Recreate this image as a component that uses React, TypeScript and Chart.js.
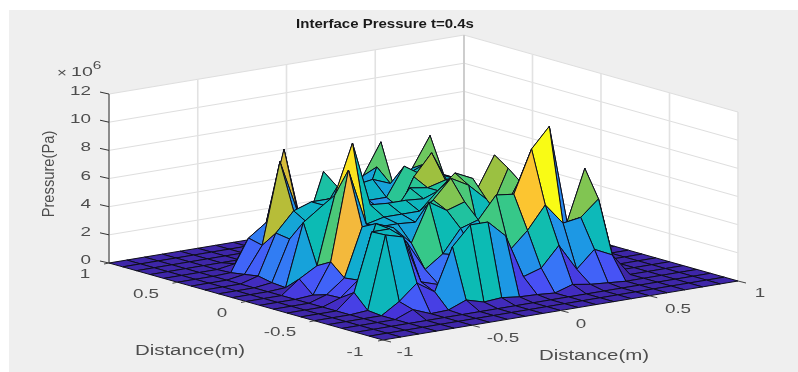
import React, { useEffect, useRef } from "react";
import { Chart, registerables } from "chart.js";

Chart.register(...registerables);

const zTicks = [0, 2, 4, 6, 8, 10, 12];
const xyTicks = [-1, -0.5, 0, 0.5, 1];
const gridXs = [-1, -0.9, -0.8, -0.7, -0.6, -0.5, -0.4, -0.3, -0.2, -0.1, 0, 0.1, 0.2, 0.3, 0.4, 0.5, 0.6, 0.7, 0.8, 0.9, 1];
const gridYs = gridXs;

// pressure (x 10^6 Pa); columns x = -0.7 .. 0.7
const zYm07 = [0, 0.5, 0, 0.05, 0.55, 0.2, 0.3, 0.15, 0.1, 0, 0.4, 0.2, 0.1, 0, 0];
const zYm06 = [0, 0.8, 1.9, 1.07, 4.06, 5.4, 5.4, 4.2, 1.1, 1.5, 2.9, 1.0, 2.2, 1.6, 0];
const zYm05 = [0.1, 5.25, 4.9, 1.5, 1.1, 3, 3, 3, 2.7, 3.9, 5.5, 4.0, 4.2, 5.3, 0];
const zYm04 = [1.1, 5.2, 5.2, 4.0, 1.9, 2.8, 4.4, 4.8, 6.35, 6.2, 9.2, 10.6, 3.6, 7.2, 0];
const zYm03 = [0.45, 1.5, 5.3, 4.8, 3.5, 6.2, 5.4, 5.8, 2.3, 4.3, 6.5, 5, 2, 1, 0];
const zYm02 = [0.4, 1.38, 4.8, 4.6, 4.6, 4.5, 5.87, 7.2, 6.5, 5.3, 2.2, 6.0, 3, 0.5, 0];
const zYm01 = [0.1, 2.24, 8.56, 4.5, 4.8, 4.8, 4.8, 6, 7.1, 6.5, 4.05, 6.8, 2.5, 0.3, 0];
const zY00 = [0.97, 1.7, 6.5, 10, 5.4, 5.3, 5.3, 5.2, 5.5, 6, 5.2, 7.47, 4, 0.5, 0];
const zY01 = [0.08, 4.5, 5.4, 6, 5, 4.2, 4, 5.7, 5.5, 5.84, 5, 4.5, 3, 0.5, 0];
const zY02 = [0.16, 3.05, 4, 5, 5, 4, 3.5, 3.5, 6, 7.5, 5, 4.5, 4, 0.5, 0];
const zY03 = [0.36, 3.2, 4.57, 5, 5, 3.5, 3.5, 3.5, 3.5, 5.8, 5, 5, 4.5, 1, 0];
const zY04 = [0.2, 2.06, 7.8, 4, 4.5, 4, 4, 4, 4, 6, 5, 5, 4.5, 1, 0];
const zY05 = [0.05, 2.3, 3.2, 8.2, 2.5, 3, 4.9, 4.8, 5, 4.5, 5, 5.5, 4.5, 1, 0];
const zY06 = [0, 0.2, 0.5, 0.5, 1, 2, 5.7, 1.5, 2, 5.4, 3.6, 4.9, 7, 1, 0];
const zY07 = [0, 0, 0, 0, 0, 0, 0.5, 0.5, 0.5, 4.5, 6.7, 1, 1, 0.5, 0];
const zRows = [zYm07, zYm06, zYm05, zYm04, zYm03, zYm02, zYm01, zY00, zY01, zY02, zY03, zY04, zY05, zY06, zY07];

const parula: number[][] = [
  [0, 62, 38, 168], [0.07, 70, 50, 215], [0.14, 72, 80, 245], [0.25, 60, 110, 250], [0.39, 30, 150, 230],
  [0.46, 15, 175, 205], [0.51, 12, 187, 180], [0.58, 50, 200, 140], [0.66, 110, 200, 95], [0.72, 170, 190, 55],
  [0.81, 245, 185, 60], [0.88, 253, 200, 45], [1, 249, 251, 21],
];
const zMax = 10.6;
function colorOf(z: number) {
  const t = Math.min(1, Math.max(0, z / zMax));
  for (let i = 1; i < parula.length; i++) {
    if (t <= parula[i][0]) {
      const a = parula[i - 1], b = parula[i];
      const f = (t - a[0]) / (b[0] - a[0]);
      return `rgb(${[1, 2, 3].map((k) => Math.round(a[k] + (b[k] - a[k]) * f)).join(",")})`;
    }
  }
  return "rgb(249,251,21)";
}

// orthographic view of the box
const view = { ox: 423.5, oy: 272, xx: 177.5, xy: -29.5, yx: -137, yy: -38.5, zy: -14.08 };
const proj = (x: number, y: number, z: number) => ({
  x: view.ox + view.xx * x + view.yx * y,
  y: view.oy + view.xy * x + view.yy * y + view.zy * z,
});
function zAt(i: number, j: number) {
  const r = zRows[j - 3];
  if (!r) return 0;
  const v = r[i - 3];
  return v === undefined ? 0 : v;
}

type Txt = { t: string; x: number; y: number; size: number; sx?: number; bold?: boolean; align?: CanvasTextAlign; rot?: boolean; color?: string };
const texts: Txt[] = [
  { t: "Interface Pressure t=0.4s", x: 385, y: 24, size: 13.5, sx: 1.11, bold: true, color: "#1a1a1a" },
  { t: "×", x: 62, y: 73, size: 13, sx: 1.3 },
  { t: "10", x: 82, y: 72, size: 13.5, sx: 1.45 },
  { t: "6", x: 97, y: 66, size: 11, sx: 1.4 },
  { t: "Pressure(Pa)", x: 50, y: 174, size: 16, rot: true, sx: 0.92 },
  { t: "Distance(m)", x: 190, y: 351, size: 14, sx: 1.46 },
  { t: "Distance(m)", x: 594, y: 356, size: 14, sx: 1.46 },
  { t: "1", x: 85, y: 274, size: 13, sx: 1.45 },
  { t: "0.5", x: 146, y: 294, size: 13, sx: 1.45 },
  { t: "0", x: 222, y: 313, size: 13, sx: 1.45 },
  { t: "-0.5", x: 280, y: 332, size: 13, sx: 1.45 },
  { t: "-1", x: 355, y: 352, size: 13, sx: 1.45 },
  { t: "-1", x: 405, y: 352, size: 13, sx: 1.45 },
  { t: "-0.5", x: 503, y: 338, size: 13, sx: 1.45 },
  { t: "0", x: 581, y: 324, size: 13, sx: 1.45 },
  { t: "0.5", x: 678, y: 309, size: 13, sx: 1.45 },
  { t: "1", x: 760, y: 293, size: 13, sx: 1.45 },
];

const textPlugin = {
  id: "textPlugin",
  afterDraw(chart: any) {
    const c = chart.ctx;
    const draw = (o: Txt) => {
      c.save();
      c.translate(o.x, o.y);
      if (o.rot) c.rotate(-Math.PI / 2);
      c.scale(o.sx ?? 1, 1);
      c.font = `${o.bold ? "bold " : ""}${o.size}px "Liberation Sans"`;
      c.textAlign = o.align ?? "center";
      c.textBaseline = "middle";
      c.fillStyle = o.color ?? "#4d4d4d";
      c.fillText(o.t, 0, 0);
      c.restore();
    };
    texts.forEach(draw);
    zTicks.forEach((z) => {
      const p = proj(-1, 1, z);
      draw({ t: String(z), x: 91, y: p.y - 2.5, size: 13, sx: 1.45, align: "right" });
    });
  },
};

function buildDatasets() {
  const ds: any[] = [];
  const poly = (pts: { x: number; y: number }[], fillColor: string, line?: string, w = 1) =>
    ds.push({
      type: "scatter", showLine: true, data: [...pts, pts[0]], fill: "shape", backgroundColor: fillColor,
      borderColor: line ?? "transparent", borderWidth: line ? w : 0, pointRadius: 0, tension: 0,
    });
  const seg = (a: { x: number; y: number }, b: { x: number; y: number }, color: string, w = 1) =>
    ds.push({ type: "scatter", showLine: true, data: [a, b], fill: false, borderColor: color, borderWidth: w, pointRadius: 0, tension: 0 });

  poly([{ x: 9, y: 10 }, { x: 798, y: 10 }, { x: 798, y: 372 }, { x: 9, y: 372 }], "#efefef");
  poly([proj(-1, 1, 0), proj(-1, 1, 12), proj(1, 1, 12), proj(1, -1, 12), proj(1, -1, 0), proj(-1, -1, 0)], "#ffffff");

  const gz = "#dedede", gv = "#e2e2e2";
  zTicks.forEach((z) => {
    seg(proj(-1, 1, z), proj(1, 1, z), gz);
    seg(proj(1, 1, z), proj(1, -1, z), gz);
  });
  xyTicks.forEach((t) => {
    seg(proj(t, 1, 0), proj(t, 1, 12), gv, 1.6);
    seg(proj(1, t, 0), proj(1, t, 12), gv, 1.6);
  });
  seg(proj(1, 1, 0), proj(1, 1, 12), "#c8c8c8", 1.6);

  // surface, painted from the back corner to the front corner
  for (let j = gridYs.length - 2; j >= 0; j--) {
    for (let i = gridXs.length - 2; i >= 0; i--) {
      const c = [
        proj(gridXs[i + 1], gridYs[j + 1], zAt(i + 1, j + 1)),
        proj(gridXs[i], gridYs[j + 1], zAt(i, j + 1)),
        proj(gridXs[i], gridYs[j], zAt(i, j)),
        proj(gridXs[i + 1], gridYs[j], zAt(i + 1, j)),
      ];
      poly(c, colorOf(zAt(i + 1, j + 1)), "#0d0d1a", 1);
    }
  }

  // axis lines and ticks
  seg(proj(-1, 1, 0), proj(-1, 1, 12), "#333333", 1);
  zTicks.forEach((z) => {
    const p = proj(-1, 1, z);
    seg(p, { x: p.x - 9, y: p.y - 2 }, "#333333", 1);
  });
  xyTicks.forEach((t) => {
    const a = proj(-1, t, 0);
    seg(a, { x: a.x - 5, y: a.y + 1 }, "#444444", 1);
    const b = proj(t, -1, 0);
    seg(b, { x: b.x + 8, y: b.y + 2 }, "#444444", 1);
  });
  return ds.reverse();
}

export default function App() {
  const ref = useRef<HTMLCanvasElement>(null);
  useEffect(() => {
    document.body.style.margin = "0";
    const chart = new Chart(ref.current!, {
      type: "scatter",
      data: { datasets: buildDatasets() },
      options: {
        animation: false,
        responsive: false,
        events: [],
        clip: false as any,
        layout: { padding: 0 },
        plugins: { legend: { display: false }, tooltip: { enabled: false }, title: { display: false } },
        scales: {
          x: { type: "linear", min: 0, max: 798, display: false },
          y: { type: "linear", min: 0, max: 372, reverse: true, display: false },
        },
      },
      plugins: [textPlugin],
    } as any);
    return () => chart.destroy();
  }, []);
  return <canvas ref={ref} width={798} height={372} style={{ display: "block" }} />;
}
